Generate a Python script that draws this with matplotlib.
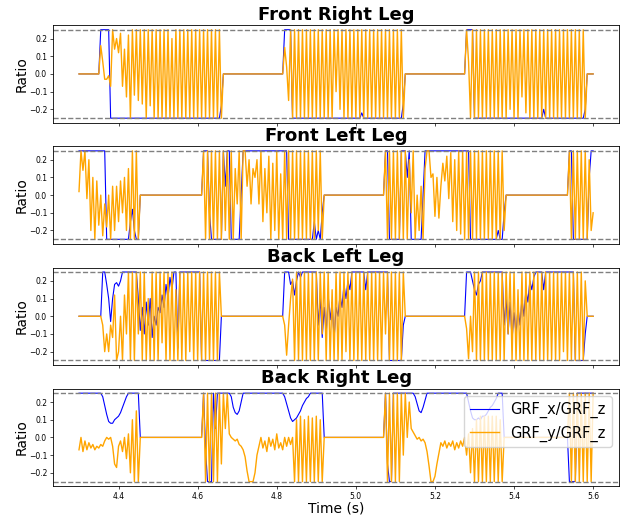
"""
Ground reaction force ratios for the four legs.
"""

import numpy as np
import matplotlib
matplotlib.use("Agg")
import matplotlib.pyplot as plt


TIME_START = 4.30
TIME_STEP = 0.005

LEG_TITLES = ["Front Right Leg", "Front Left Leg", "Back Left Leg", "Back Right Leg"]
SERIES_LABELS = ["GRF_x/GRF_z", "GRF_y/GRF_z"]
FRICTION_LIMIT = 0.25

# front right
fr_x = [
    0, 0, 0, 0, 0, 0, 0, 0, 0, 0,
    0, .25, .25, .25, .25, .25, -.25, -.25, -.25, -.25,
    -.25, -.25, -.25, -.25, -.25, -.25, -.25, -.25, -.25, -.25,
    -.25, -.25, -.25, -.25, -.25, -.25, -.25, -.25, -.25, -.25,
    -.25, -.25, -.25, -.25, -.25, -.25, -.25, -.25, -.25, -.25,
    -.25, -.25, -.25, -.25, -.25, -.25, -.25, -.25, -.25, -.25,
    -.25, -.25, -.25, -.25, -.25, -.25, -.25, -.25, -.25, -.25,
    -.25, -.25, -.18, 0, 0, 0, 0, 0, 0, 0,
    0, 0, 0, 0, 0, 0, 0, 0, 0, 0,
    0, 0, 0, 0, 0, 0, 0, 0, 0, 0,
    0, 0, 0, 0, .25, .25, .25, .25, -.25, -.25,
    -.25, -.25, -.25, -.25, -.25, -.25, -.25, -.25, -.25, -.25,
    -.25, -.25, -.25, -.25, -.25, -.25, -.25, -.25, -.25, -.25,
    -.25, -.25, -.25, -.25, -.25, -.25, -.25, -.25, -.25, -.25,
    -.25, -.25, -.25, -.22, -.25, -.25, -.25, -.25, -.25, -.25,
    -.25, -.25, -.25, -.25, -.25, -.25, -.25, -.25, -.25, -.25,
    -.25, -.25, -.25, -.25, -.17, 0, 0, 0, 0, 0,
    0, 0, 0, 0, 0, 0, 0, 0, 0, 0,
    0, 0, 0, 0, 0, 0, 0, 0, 0, 0,
    0, 0, 0, 0, 0, 0, .25, .25, .25, .25,
    -.25, -.25, -.25, -.25, -.25, -.25, -.25, -.25, -.25, -.25,
    -.25, -.25, -.25, -.25, -.25, -.25, -.25, -.25, -.25, -.25,
    -.25, -.25, -.25, -.25, -.25, -.25, -.25, -.25, -.25, -.25,
    -.25, -.25, -.25, -.25, -.25, -.2, -.25, -.25, -.25, -.25,
    -.25, -.25, -.25, -.25, -.25, -.25, -.25, -.25, -.25, -.25,
    -.25, -.25, -.25, -.25, -.25, -.25, -.2, 0, 0, 0,
    0,
]

fr_y = [
    0, 0, 0, 0, 0, 0, 0, 0, 0, 0,
    0, .16, .07, -.03, -.03, -.01, -.07, .25, .14, .2,
    .12, .23, -.07, .14, -.13, .22, -.25, .25, -.12, .25,
    -.15, .25, -.17, .25, -.25, .25, -.18, .25, -.25, .25,
    -.25, .25, -.25, .25, -.25, .25, -.25, .2, -.25, .25,
    -.25, .25, -.25, .25, -.25, .25, -.25, .25, -.25, .25,
    -.25, .25, -.25, .25, -.25, .25, -.25, .25, -.25, .25,
    -.25, .25, -.25, 0, 0, 0, 0, 0, 0, 0,
    0, 0, 0, 0, 0, 0, 0, 0, 0, 0,
    0, 0, 0, 0, 0, 0, 0, 0, 0, 0,
    0, 0, 0, 0, .15, .04, -.15, .25, -.25, .25,
    -.25, .25, -.25, .25, -.25, .25, -.25, .25, -.25, .25,
    -.25, .25, -.25, .25, -.25, .25, -.25, .25, -.25, .25,
    -.1, .25, -.2, .25, -.25, .25, -.25, .25, -.25, .25,
    -.25, .25, -.25, .25, -.25, .25, -.25, .25, -.25, .25,
    -.25, .25, -.25, .25, -.25, .25, -.25, .25, -.25, .25,
    -.25, .25, -.25, .25, -.25, 0, 0, 0, 0, 0,
    0, 0, 0, 0, 0, 0, 0, 0, 0, 0,
    0, 0, 0, 0, 0, 0, 0, 0, 0, 0,
    0, 0, 0, 0, 0, 0, .25, .07, -.25, .25,
    -.25, .25, -.25, .25, -.25, .25, -.25, .25, -.25, .25,
    -.25, .25, -.25, .25, -.25, .25, -.25, .25, -.2, .25,
    -.25, .25, -.25, .25, -.13, .25, -.22, .25, -.25, .25,
    -.25, .25, -.25, .25, -.25, .25, -.25, .25, -.25, .25,
    -.25, .25, -.25, .25, -.25, .25, -.25, .25, -.25, .25,
    -.25, .25, -.25, .25, -.25, .25, -.25, 0, 0, 0,
    0,
]

# front left
fl_x = [
    .25, .25, .25, .25, .25, .25, .25, .25, .25, .25,
    .25, .25, .25, .25, -.25, -.25, -.25, -.25, -.25, -.25,
    -.25, -.25, -.25, -.25, -.25, -.25, -.15, -.08, -.2, -.25,
    -.25, 0, 0, 0, 0, 0, 0, 0, 0, 0,
    0, 0, 0, 0, 0, 0, 0, 0, 0, 0,
    0, 0, 0, 0, 0, 0, 0, 0, 0, 0,
    0, 0, 0, .25, .25, .25, -.1, -.25, -.25, -.25,
    -.25, -.25, -.25, .25, .05, .25, .25, -.25, -.25, -.25,
    -.25, -.25, 0, .25, .25, .25, .25, .25, .25, .25,
    .25, .25, .25, .25, .25, .25, .25, .25, .25, .25,
    .25, .25, .25, .25, .25, .25, -.25, -.25, -.25, -.25,
    -.25, -.25, -.25, -.25, -.25, -.25, -.25, -.25, -.25, -.15,
    -.25, -.2, -.25, -.1, 0, 0, 0, 0, 0, 0,
    0, 0, 0, 0, 0, 0, 0, 0, 0, 0,
    0, 0, 0, 0, 0, 0, 0, 0, 0, 0,
    0, 0, 0, 0, 0, .25, .25, -.25, -.25, -.25,
    -.25, -.25, -.25, .25, .25, .25, .1, .25, -.25, -.25,
    -.25, -.25, -.25, -.25, 0, .25, .25, .25, .25, .25,
    .25, .25, .25, .25, .25, .25, .25, .25, .25, .25,
    .25, .25, .25, .25, .25, .25, .25, .25, -.25, -.25,
    -.25, -.25, -.25, -.25, -.25, -.25, -.25, -.25, -.25, -.25,
    -.25, -.25, -.2, -.25, -.25, -.1, 0, 0, 0, 0,
    0, 0, 0, 0, 0, 0, 0, 0, 0, 0,
    0, 0, 0, 0, 0, 0, 0, 0, 0, 0,
    0, 0, 0, 0, 0, 0, 0, 0, .25, .25,
    -.25, -.25, -.25, -.25, -.25, -.25, -.25, -.25, .1, .25,
    .25,
]

fl_y = [
    .02, .25, .14, .25, -.02, .2, -.2, .1, -.25, .08,
    -.17, 0, -.23, -.05, -.18, 0, -.25, .05, -.2, .05,
    -.15, .08, -.1, .1, -.2, .15, -.25, .25, -.25, .25,
    -.25, 0, 0, 0, 0, 0, 0, 0, 0, 0,
    0, 0, 0, 0, 0, 0, 0, 0, 0, 0,
    0, 0, 0, 0, 0, 0, 0, 0, 0, 0,
    0, 0, 0, .25, -.25, .25, -.25, .25, -.25, .25,
    -.25, .25, -.25, .25, -.2, .25, -.25, .25, -.25, .15,
    -.05, .25, -.25, .25, .25, .05, .2, -.05, .15, .1,
    .2, -.05, .25, -.15, .15, -.1, .22, -.25, .18, -.2,
    .25, -.25, .12, -.25, .25, -.25, .25, -.25, .25, -.25,
    .25, -.25, .25, -.25, .25, -.25, .25, -.25, .25, -.25,
    .25, -.2, .25, -.25, 0, 0, 0, 0, 0, 0,
    0, 0, 0, 0, 0, 0, 0, 0, 0, 0,
    0, 0, 0, 0, 0, 0, 0, 0, 0, 0,
    0, 0, 0, 0, 0, .25, -.25, .25, -.25, .25,
    -.25, .25, -.25, .25, -.25, .25, -.25, .2, -.1, .25,
    -.25, 0, -.2, .05, -.25, .15, .25, .25, .1, .12,
    -.12, .1, -.13, .05, .18, .08, .22, -.02, .24, -.15,
    .2, -.2, .25, -.22, .25, -.25, .25, -.25, .25, -.25,
    .25, -.25, .25, -.25, .25, -.25, .25, -.25, .25, -.25,
    .25, -.25, .25, -.25, .25, -.2, 0, 0, 0, 0,
    0, 0, 0, 0, 0, 0, 0, 0, 0, 0,
    0, 0, 0, 0, 0, 0, 0, 0, 0, 0,
    0, 0, 0, 0, 0, 0, 0, 0, .25, -.25,
    .25, -.25, .25, -.25, .25, -.25, .25, -.25, .2, -.2,
    -.1,
]

# back left
bl_x = [
    0, 0, 0, 0, 0, 0, 0, 0, 0, 0,
    0, 0, .25, .25, .18, .1, -.03, .1, .18, .19,
    .17, .2, .25, .25, .25, .25, .25, .25, .25, .25,
    .1, -.08, .05, -.1, .08, -.05, .1, -.12, 0, -.05,
    .05, .02, .12, .05, .18, .1, .22, .15, .25, .25,
    -.18, .25, .25, .25, .25, .25, .25, .25, .25, .25,
    .25, .25, -.25, -.25, -.25, -.25, -.25, -.25, -.25, -.25,
    -.25, -.25, 0, 0, 0, 0, 0, 0, 0, 0,
    0, 0, 0, 0, 0, 0, 0, 0, 0, 0,
    0, 0, 0, 0, 0, 0, 0, 0, 0, 0,
    0, 0, 0, 0, .25, .25, .25, .18, .2, .12,
    .2, .25, .22, .25, .25, .25, .25, .25, .25, .25,
    .25, -.05, .1, -.12, .05, -.1, .12, -.02, .08, -.13,
    .05, 0, .12, .05, .18, .1, .2, .15, .25, .25,
    .25, .25, .25, .25, .25, .15, .25, .25, .25, .25,
    .25, .25, .25, .25, .25, .25, .25, -.25, -.25, -.25,
    -.25, -.25, -.25, -.25, -.05, 0, 0, 0, 0, 0,
    0, 0, 0, 0, 0, 0, 0, 0, 0, 0,
    0, 0, 0, 0, 0, 0, 0, 0, 0, 0,
    0, 0, 0, 0, 0, 0, .25, .25, .25, .2,
    .15, .12, .18, .2, .25, .25, .25, .25, .25, .25,
    .25, .25, .25, .25, .25, -.05, .1, -.1, .08, -.13,
    .02, -.1, .05, -.05, .1, 0, .15, .08, .2, .15,
    .22, .25, .25, .25, .25, .15, .25, .25, .25, .25,
    .25, .25, .25, .25, .25, .25, .25, .25, .25, .25,
    .25, -.25, -.25, -.25, -.25, -.25, -.1, 0, 0, 0,
    0,
]

bl_y = [
    0, 0, 0, 0, 0, 0, 0, 0, 0, 0,
    0, 0, -.05, -.2, -.1, -.2, -.05, -.12, .12, -.25,
    -.2, 0, -.25, .12, -.1, .25, -.25, .25, -.25, .25,
    -.1, .25, -.25, .25, -.25, .1, -.25, .25, -.25, .25,
    -.25, .25, -.15, .25, -.25, .25, -.25, .25, -.25, .15,
    -.25, .25, -.25, .25, -.25, .25, -.2, .25, -.25, .25,
    -.25, .25, -.25, .25, -.25, .25, -.25, .25, -.25, .25,
    -.25, .25, 0, 0, 0, 0, 0, 0, 0, 0,
    0, 0, 0, 0, 0, 0, 0, 0, 0, 0,
    0, 0, 0, 0, 0, 0, 0, 0, 0, 0,
    0, 0, 0, 0, -.05, -.22, -.05, .1, .21, -.25,
    .25, -.25, .25, -.25, .25, -.25, .25, -.25, .25, -.25,
    .25, -.25, .25, -.1, .25, -.25, .25, -.25, .15, -.25,
    .25, -.25, .25, -.25, .25, -.2, .25, -.25, .25, -.25,
    .25, -.25, .25, -.25, .25, -.25, .25, -.25, .25, -.25,
    .25, -.25, .25, -.25, .25, -.1, .25, -.25, .25, -.25,
    .25, -.25, .25, -.25, .25, 0, 0, 0, 0, 0,
    0, 0, 0, 0, 0, 0, 0, 0, 0, 0,
    0, 0, 0, 0, 0, 0, 0, 0, 0, 0,
    0, 0, 0, 0, 0, 0, -.07, -.24, 0, -.2,
    .25, -.25, .25, -.25, .25, -.25, .25, -.25, .25, -.25,
    .25, -.25, .25, -.25, .25, -.25, .25, -.1, .25, -.25,
    .25, -.25, .15, -.25, .25, -.25, .25, -.25, .25, -.25,
    .25, -.25, .25, -.25, .25, -.25, .25, -.25, .25, -.25,
    .25, -.25, .25, -.25, .25, -.2, .25, -.25, .25, -.25,
    .25, -.25, .25, -.25, .25, -.25, .2, 0, 0, 0,
    0,
]

# back right
br_x = [
    .25, .25, .25, .25, .25, .25, .25, .25, .25, .25,
    .25, .25, .23, .18, .13, .09, .08, .08, .1, .11,
    .12, .14, .17, .2, .23, .25, .25, .25, .25, .25,
    .25, 0, 0, 0, 0, 0, 0, 0, 0, 0,
    0, 0, 0, 0, 0, 0, 0, 0, 0, 0,
    0, 0, 0, 0, 0, 0, 0, 0, 0, 0,
    0, 0, 0, .25, -.07, -.25, -.25, -.25, .25, .05,
    .25, .25, .25, .25, .25, .25, .25, .23, .17, .14,
    .13, .15, .2, .25, .25, .25, .25, .25, .25, .25,
    .25, .25, .25, .25, .25, .25, .25, .25, .25, .25,
    .25, .25, .25, .25, .23, .19, .15, .11, .09, .1,
    .11, .13, .15, .18, .2, .22, .23, .25, .25, .25,
    .25, .25, .25, .25, 0, 0, 0, 0, 0, 0,
    0, 0, 0, 0, 0, 0, 0, 0, 0, 0,
    0, 0, 0, 0, 0, 0, 0, 0, 0, 0,
    0, 0, 0, 0, 0, .25, -.15, -.25, -.25, .25,
    .25, .25, .25, .25, .25, .25, .25, .25, .25, .25,
    .23, .19, .15, .14, .17, .21, .25, .25, .25, .25,
    .25, .25, .25, .25, .25, .25, .25, .25, .25, .25,
    .25, .25, .25, .25, .25, .25, .25, .2, .15, .11,
    .1, .1, .11, .1, .12, .12, .13, .15, .17, .18,
    .2, .22, .25, .25, .25, 0, 0, 0, 0, 0,
    0, 0, 0, 0, 0, 0, 0, 0, 0, 0,
    0, 0, 0, 0, 0, 0, 0, 0, 0, 0,
    0, 0, 0, 0, 0, 0, 0, 0, -.25, -.25,
    -.25, -.25, .25, .25, .25, .25, .25, .25, .25, .25,
    .25,
]

br_y = [
    -.07, 0, -.08, -.02, -.07, -.03, -.06, -.04, -.07, -.05,
    -.06, -.04, -.05, -.02, 0, -.01, 0, -.05, -.15, -.17,
    -.05, -.02, -.08, 0, -.12, .02, -.2, .1, -.25, .15,
    -.25, 0, 0, 0, 0, 0, 0, 0, 0, 0,
    0, 0, 0, 0, 0, 0, 0, 0, 0, 0,
    0, 0, 0, 0, 0, 0, 0, 0, 0, 0,
    0, 0, 0, .25, -.25, .25, -.25, .25, -.25, .25,
    -.25, .25, -.15, .25, .05, .25, .02, 0, -.01, -.02,
    -.01, -.04, -.05, -.07, -.11, -.19, -.25, -.25, -.25, -.2,
    -.1, -.05, 0, -.06, -.02, -.08, 0, -.05, -.01, -.07,
    .02, -.06, -.03, -.07, 0, -.05, 0, -.04, 0, -.25,
    .1, -.25, .12, -.25, .1, -.25, .12, -.25, .11, -.25,
    .12, -.25, .1, -.25, 0, 0, 0, 0, 0, 0,
    0, 0, 0, 0, 0, 0, 0, 0, 0, 0,
    0, 0, 0, 0, 0, 0, 0, 0, 0, 0,
    0, 0, 0, 0, 0, .25, -.25, .25, -.25, .25,
    -.25, .25, -.25, .25, -.1, .25, 0, .2, .05, .03,
    .01, -.01, 0, -.02, -.01, -.03, -.08, -.16, -.25, -.25,
    -.22, -.15, -.09, -.03, -.05, -.02, -.06, -.03, -.05, -.02,
    -.07, -.03, -.06, -.02, -.05, 0, -.1, .02, -.2, .05,
    -.25, .1, -.25, .12, -.25, .12, -.25, .12, -.25, .12,
    -.25, .12, -.25, .1, -.25, 0, 0, 0, 0, 0,
    0, 0, 0, 0, 0, 0, 0, 0, 0, 0,
    0, 0, 0, 0, 0, 0, 0, 0, 0, 0,
    0, 0, 0, 0, 0, 0, 0, 0, .25, -.25,
    .25, -.25, .25, -.25, .25, -.25, .25, -.25, .25, -.25,
    .25,
]


def plot_legs(legs):
    """
    Plot the force ratios, one panel per leg.
    """

    fig, axes = plt.subplots(4, 1, figsize=(6.27, 5.16), dpi=100, sharex=True)
    fig.subplots_adjust(left=0.085, right=0.987, top=0.951, bottom=0.058, hspace=0.245)

    for ax, title, (ratio_x, ratio_y) in zip(axes, LEG_TITLES, legs):
        time = TIME_START + TIME_STEP * np.arange(len(ratio_x))
        ax.plot(time, ratio_x, color="blue", linewidth=0.8, label=SERIES_LABELS[0])
        ax.plot(time, ratio_y, color="orange", linewidth=1.0, label=SERIES_LABELS[1])
        ax.axhline(FRICTION_LIMIT, color="gray", linestyle="--", linewidth=1.0)
        ax.axhline(-FRICTION_LIMIT, color="gray", linestyle="--", linewidth=1.0)

        ax.set_ylim(-0.275, 0.275)
        ax.set_yticks([-0.2, -0.1, 0.0, 0.1, 0.2])
        ax.set_title(title, fontsize=13, fontweight="bold", pad=4)
        ax.set_ylabel("Ratio", fontsize=10, labelpad=0)
        ax.tick_params(labelsize=5.5, length=2.5, width=0.5, pad=2)
        for spine in ax.spines.values():
            spine.set_linewidth(0.6)

    axes[-1].set_xlabel("Time (s)", fontsize=10, labelpad=0)
    axes[-1].legend(loc="upper right", fontsize=10.5)

    fig.savefig("out.png")


if __name__ == "__main__":

    legs = [
        (fr_x, fr_y),
        (fl_x, fl_y),
        (bl_x, bl_y),
        (br_x, br_y),
    ]

    plot_legs(legs)
